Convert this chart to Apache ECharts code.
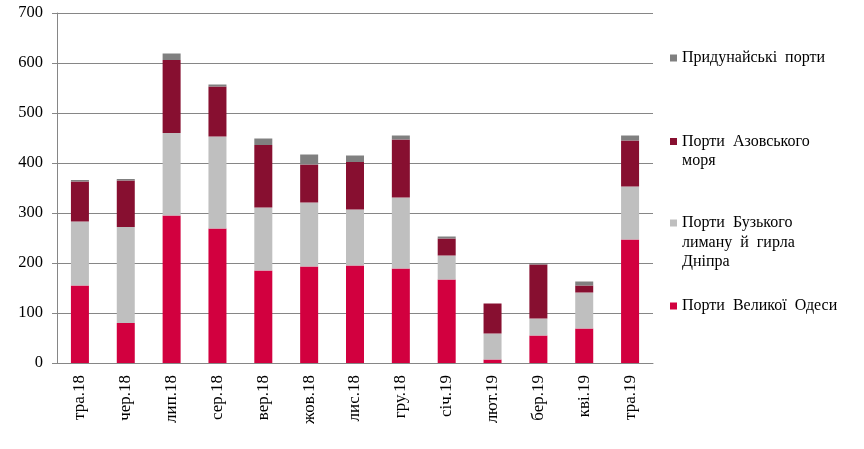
<!DOCTYPE html>
<html>
<head>
<meta charset="utf-8">
<script src="https://cdn.jsdelivr.net/npm/echarts@6/dist/echarts.min.js"></script>
<style>html,body{margin:0;padding:0;background:#fff}#c{width:864px;height:449px}</style>
</head>
<body>
<div id="c"></div>
<script>
const categories = ['тра.18','чер.18','лип.18','сер.18','вер.18','жов.18','лис.18','гру.18','січ.19','лют.19','бер.19','кві.19','тра.19'];
const odesa   = [155, 80, 295, 269, 185, 193, 195, 189, 167, 7, 55, 69, 247];
const buzky   = [128, 192, 165, 184, 126, 128, 112, 142, 48, 52, 34, 72, 106];
const azov    = [80, 93, 146, 100, 125, 76, 95, 116, 34, 60, 108, 14, 92];
const danube  = [3, 3, 13, 4, 13, 20, 13, 8, 4, 0, 3, 8, 10];
const yTicks = [0, 100, 200, 300, 400, 500, 600, 700];

const names = ['Порти Великої Одеси', 'Порти Бузького лиману й гирла Дніпра', 'Порти Азовського моря', 'Придунайські порти'];
const colors = ['#D2003F', '#BFBFBF', '#870F30', '#808080'];
const values = [odesa, buzky, azov, danube];

const font = 'Liberation Serif, Times New Roman, serif';
const lh = 19.5;
function legendItem(name, top, text) {
  return {
    show: true, orient: 'vertical', left: 670, top: top, padding: 0,
    itemWidth: 7, itemHeight: 7, itemGap: 0, icon: 'rect',
    data: [name],
    formatter: () => text,
    textStyle: { fontFamily: font, fontSize: 16, color: '#000', lineHeight: lh, padding: [0,0,0,0] },
    selectedMode: false
  };
}

const chart = echarts.init(document.getElementById('c'), null, {renderer: 'canvas'});
chart.setOption({
  animation: false,
  backgroundColor: '#fff',
  grid: { left: 57, right: 211, top: 13, bottom: 86, containLabel: false },
  legend: [
    legendItem(names[3], 58 - lh/2, 'Придунайські  порти'),
    legendItem(names[2], 141.5 - lh*1.5, ' \nПорти  Азовського\nморя'),
    legendItem(names[1], 223 - lh*2.5, ' \n \nПорти  Бузького\nлиману  й  гирла\nДніпра'),
    legendItem(names[0], 306 - lh/2, 'Порти  Великої  Одеси')
  ],
  xAxis: {
    type: 'category', data: categories,
    axisLine: { lineStyle: { color: '#868686' } },
    axisTick: { length: 5, lineStyle: { color: '#868686' } },
    axisLabel: { rotate: 90, margin: 12, fontFamily: font, fontSize: 17, color: '#000' }
  },
  yAxis: {
    type: 'value', min: 0, max: 700, interval: 100,
    axisLine: { show: true, lineStyle: { color: '#868686' } },
    axisTick: { show: true, length: 5, lineStyle: { color: '#868686' } },
    splitLine: { lineStyle: { color: '#868686' } },
    axisLabel: { margin: 14, fontFamily: font, fontSize: 16.5, color: '#000',
      formatter: v => yTicks.includes(v) ? String(v) : '' }
  },
  series: values.map((d, i) => ({
    name: names[i], type: 'bar', stack: 'total', data: d, barWidth: 18,
    itemStyle: { color: colors[i] }
  }))
});
</script>
</body>
</html>
